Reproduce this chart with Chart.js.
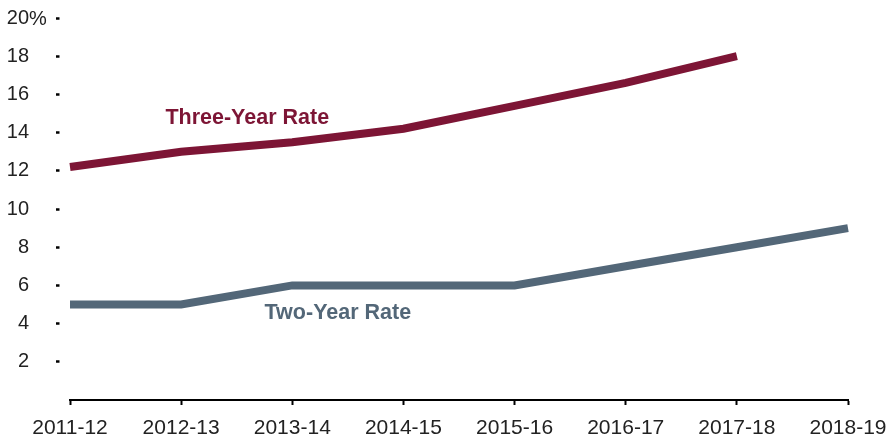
<!DOCTYPE html>
<html>
<head>
<meta charset="utf-8">
<script src="https://cdn.jsdelivr.net/npm/chart.js@4/dist/chart.umd.min.js"></script>
<style>
  html, body { margin: 0; padding: 0; background: #ffffff; }
  #wrap { width: 895px; height: 440px; position: relative; }
</style>
</head>
<body>
<div id="wrap"><canvas id="chart"></canvas></div>
<script>
// School years on the horizontal axis
const years = ['2011-12', '2012-13', '2013-14', '2014-15', '2015-16', '2016-17', '2017-18', '2018-19'];

// Rates in percent (three-year rate not yet available for the latest year)
const threeYearRate = [12.2, 13.0, 13.5, 14.2, 15.4, 16.6, 18.0, null];
const twoYearRate = [5, 5, 6, 6, 6, 7, 8, 9];

// Vertical axis ticks
const yTicks = [0, 2, 4, 6, 8, 10, 12, 14, 16, 18, 20];

// Inline series labels: text, position along the category axis (index) and value
const seriesLabels = [
  { text: 'Three-Year Rate', at: 1.595, value: 14.75, color: '#7d1535' },
  { text: 'Two-Year Rate', at: 2.41, value: 4.55, color: '#536778' }
];

const FONT = '"Liberation Sans", Arial, Helvetica, sans-serif';
const TICK_COLOR = '#222222';

// Draws the inline series names and the "%" unit on the top tick
const annotations = {
  id: 'annotations',
  afterDraw(chart) {
    const { ctx, scales } = chart;
    const x = scales.x, y = scales.y;
    ctx.save();
    ctx.font = 'bold 21.5px ' + FONT;
    ctx.textAlign = 'center';
    ctx.textBaseline = 'middle';
    seriesLabels.forEach(l => {
      ctx.fillStyle = l.color;
      ctx.fillText(l.text, x.getPixelForValue(l.at), y.getPixelForValue(l.value));
    });
    // unit after the top tick label
    const top = yTicks[yTicks.length - 1];
    ctx.font = '20px ' + FONT;
    ctx.fillStyle = TICK_COLOR;
    ctx.textAlign = 'left';
    ctx.fillText('%', y.right - 14 - 27, y.getPixelForValue(top) + 1);
    ctx.restore();
  }
};

new Chart(document.getElementById('chart'), {
  type: 'line',
  data: {
    labels: years,
    datasets: [
      {
        label: 'Three-Year Rate',
        data: threeYearRate,
        borderColor: '#7d1535',
        backgroundColor: '#7d1535',
        borderWidth: 8,
        pointRadius: 0,
        tension: 0,
        spanGaps: false,
        borderCapStyle: 'butt'
      },
      {
        label: 'Two-Year Rate',
        data: twoYearRate,
        borderColor: '#536778',
        backgroundColor: '#536778',
        borderWidth: 8,
        pointRadius: 0,
        tension: 0,
        borderCapStyle: 'butt'
      }
    ]
  },
  options: {
    responsive: true,
    maintainAspectRatio: false,
    animation: false,
    layout: { padding: { left: 0, right: 47, top: 18, bottom: 0 } },
    plugins: {
      legend: { display: false },
      tooltip: { enabled: false }
    },
    scales: {
      x: {
        offset: false,
        border: { display: true, color: '#000000', width: 2 },
        grid: {
          drawOnChartArea: false,
          drawTicks: true,
          tickLength: 5,
          tickWidth: 2,
          tickColor: '#000000'
        },
        ticks: {
          color: TICK_COLOR,
          font: { family: FONT, size: 21 },
          padding: 11,
          maxRotation: 0,
          autoSkip: false
        },
        afterFit(scale) {
          scale.height = 40;
          scale.paddingLeft = 0;
          scale.paddingRight = 0;
        }
      },
      y: {
        min: 0,
        max: 20,
        afterBuildTicks(scale) { scale.ticks = yTicks.map(v => ({ value: v })); },
        border: { display: false },
        grid: {
          drawOnChartArea: false,
          drawTicks: true,
          tickLength: 14,
          tickWidth: 2.5,
          tickBorderDash: [3.5, 10.5],
          tickColor: ctx => (ctx.tick && ctx.tick.value === 0 ? 'rgba(0,0,0,0)' : '#000000')
        },
        ticks: {
          color: TICK_COLOR,
          font: { family: FONT, size: 20 },
          padding: 27,
          callback: v => (v === 0 ? '' : String(v))
        },
        afterFit(scale) {
          scale.width = 70;
          scale.paddingTop = 0;
          scale.paddingBottom = 0;
        }
      }
    }
  },
  plugins: [annotations]
});
</script>
</body>
</html>
